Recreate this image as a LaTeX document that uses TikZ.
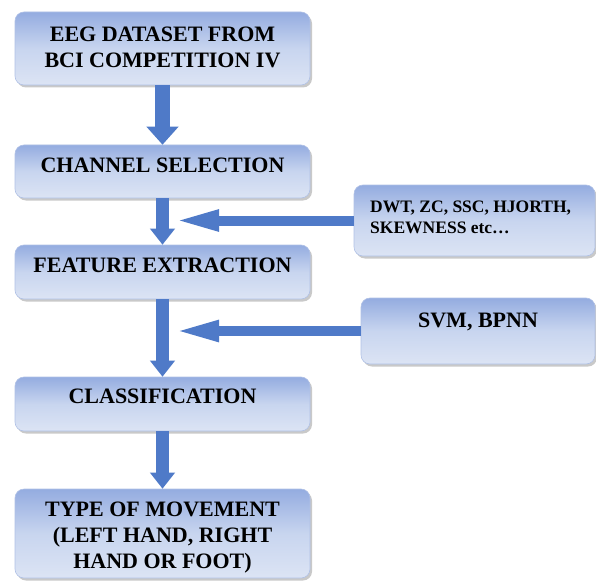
\documentclass[tikz,border=0pt]{standalone}
\usepackage{fontspec}
\newfontfamily\tnrfont{Liberation Serif}
\usetikzlibrary{arrows.meta,shadows}
\definecolor{boxtop}{HTML}{94ACE0}
\definecolor{boxmid}{HTML}{C8D5EF}
\definecolor{boxbot}{HTML}{DCE4F4}
\definecolor{boxline}{HTML}{B0C1E6}
\definecolor{arrowblue}{HTML}{4F7AC8}
\begin{document}
\begin{tikzpicture}[x=1pt,y=-1pt,
  box/.style={rounded corners=9pt, draw=boxline, line width=0.6pt,
    top color=boxtop, bottom color=boxbot, middle color=boxmid,
    drop shadow={shadow xshift=2pt,shadow yshift=-2.5pt,opacity=0.35,fill=black!60},
    inner sep=0pt, anchor=center},
  maintxt/.style={font=\tnrfont\bfseries\fontsize{22}{26}\selectfont, align=center, inner sep=0pt, text=black},
  sidetxt/.style={font=\tnrfont\bfseries\fontsize{17.5}{21}\selectfont, align=left, inner sep=0pt, text=black},
  varrowbig/.style={draw=arrowblue, line width=15pt, -{Triangle[width=31pt,length=18pt]}},
  varrow/.style={draw=arrowblue, line width=13pt, -{Triangle[width=24pt,length=16pt]}},
  harrow/.style={draw=arrowblue, line width=10pt, -{Triangle[width=19pt,length=46pt]}}
]
\useasboundingbox (0,0) rectangle (596,580);
\fill[white] (0,0) rectangle (596,580);

% main boxes
\node[box, minimum width=295pt, minimum height=73pt] (b1) at (162.5,48.5) {};
\node[box, minimum width=295pt, minimum height=53pt] (b2) at (162.5,171.5) {};
\node[box, minimum width=295pt, minimum height=54pt] (b3) at (162.5,272) {};
\node[box, minimum width=295pt, minimum height=54pt] (b4) at (162.5,404) {};
\node[box, minimum width=295pt, minimum height=89pt] (b5) at (162.5,533.5) {};
% side boxes
\node[box, minimum width=241pt, minimum height=71pt] (s1) at (474.5,220.5) {};
\node[box, minimum width=234pt, minimum height=66pt] (s2) at (478,331) {};

% texts
\node[maintxt] (t1) at (162.5,47.5) {EEG DATASET FROM\\BCI COMPETITION IV};
\node[maintxt] (t2) at (162.5,165) {CHANNEL SELECTION};
\node[maintxt] (t3) at (162.5,265) {FEATURE EXTRACTION};
\node[maintxt] (t4) at (162.5,396) {CLASSIFICATION};
\node[maintxt] (t5) at (162.5,538) {TYPE OF MOVEMENT\\(LEFT HAND, RIGHT\\HAND OR FOOT)};
\node[sidetxt, anchor=west] (ts1) at (370,217.5) {DWT, ZC, SSC, HJORTH,\\SKEWNESS etc…};
\node[maintxt] (ts2) at (478,322) {SVM, BPNN};

% arrows
\draw[varrowbig] (b1.south) -- (b2.north);
\draw[varrow] (b2.south) -- (b3.north);
\draw[varrow] (b3.south) -- (b4.north);
\draw[varrow] (b4.south) -- (b5.north);

\coordinate (j1) at (173,220.5);
\coordinate (j2) at (173,331);
\draw[harrow] (s1.west) -- (s1.west -| j1);
\draw[harrow] (s2.west) -- (s2.west -| j2);
\end{tikzpicture}
\end{document}
